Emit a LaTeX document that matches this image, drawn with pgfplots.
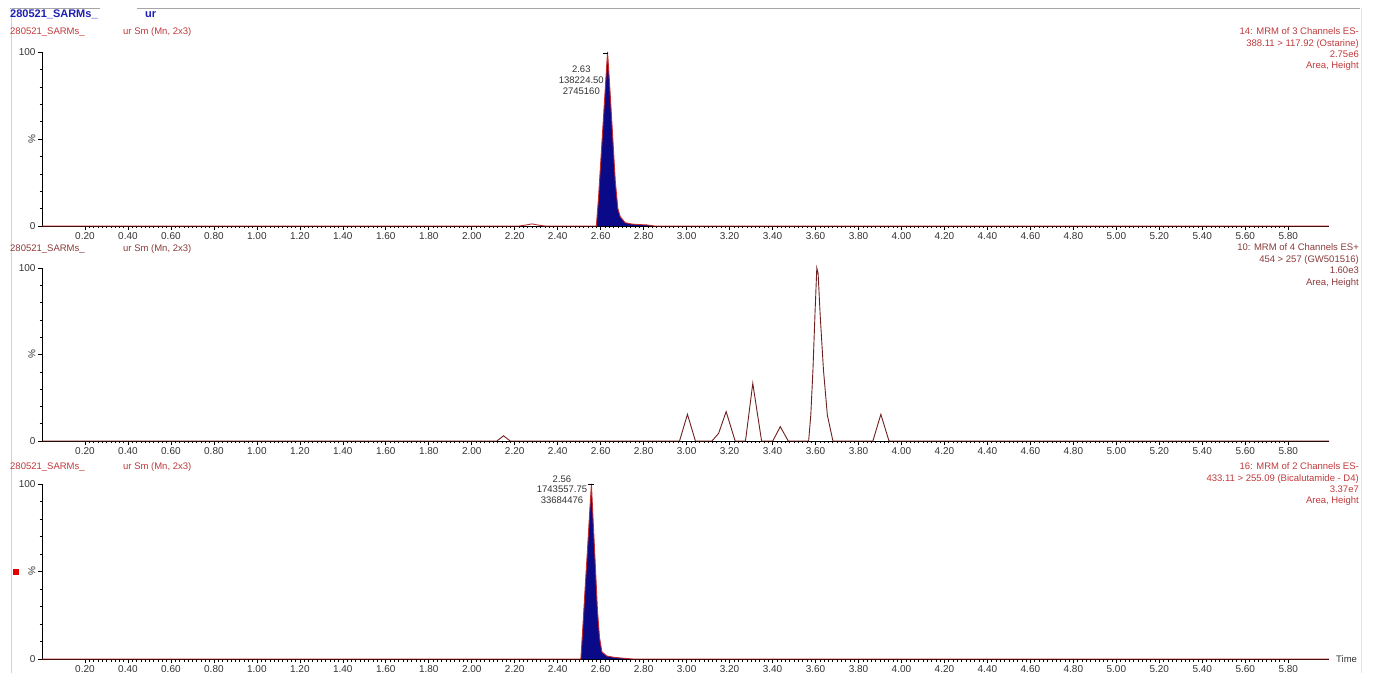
\documentclass[border=0pt]{standalone}
\usepackage{pgfplots}
\pgfplotsset{compat=1.18}
\usepackage{fontspec}
\setmainfont{Liberation Sans}
\usepackage{graphicx}
\definecolor{hdrblue}{HTML}{1E1EB4}
\definecolor{lblred}{HTML}{C0393B}
\definecolor{lblbrown}{HTML}{8B3A3A}
\definecolor{navyfill}{HTML}{0A0A88}
\definecolor{tracered}{HTML}{C42A2A}
\definecolor{tracebrown}{HTML}{6E1E1E}
\definecolor{ticktxt}{HTML}{333333}

\pgfplotsset{
  chrom/.style={
    scale only axis, width=1287bp,
    xmin=0, xmax=5.99, ymin=0, ymax=100,
    axis x line*=bottom, axis y line*=left,
    axis line style={black, line width=0.8bp, -},
    xtick={0.2,0.4,0.6,0.8,1.0,1.2,1.4,1.6,1.8,2.0,2.2,2.4,2.6,2.8,3.0,3.2,3.4,3.6,3.8,4.0,4.2,4.4,4.6,4.8,5.0,5.2,5.4,5.6,5.8},
    xticklabels={0.20,0.40,0.60,0.80,1.00,1.20,1.40,1.60,1.80,2.00,2.20,2.40,2.60,2.80,3.00,3.20,3.40,3.60,3.80,4.00,4.20,4.40,4.60,4.80,5.00,5.20,5.40,5.60,5.80},
    minor x tick num=9,
    ytick={0,50,100},
    yticklabels={0,{\rotatebox{90}{\%}},100},
    minor ytick={10,20,30,40,60,70,80,90},
    tick align=outside,
    major tick length=4bp, minor tick length=2.5bp,
    every tick/.style={black, line width=0.6bp},
    every minor tick/.style={black, line width=0.5bp},
    /pgf/number format/assume math mode=true,
    tick label style={font=\fontsize{10bp}{12bp}\selectfont, text=ticktxt},
    xticklabel style={yshift=1bp},
    yticklabel style={xshift=1bp},
    clip=false,
  }
}

\begin{document}
\begin{tikzpicture}[x=1bp,y=1bp]
\useasboundingbox (0,0) rectangle (1373,673);
% frame lines
\draw[gray!70, line width=0.8bp] (10,665) -- (100,665);
\draw[gray!70, line width=0.8bp] (137,665) -- (1360,665);
\draw[gray!35, line width=0.6bp] (11,665) -- (11,0);
\draw[gray!20, line width=0.6bp] (1361,665) -- (1361,0);
% header
\node[anchor=base west, inner sep=0, font=\fontsize{11bp}{13bp}\selectfont\bfseries, text=hdrblue] at (10,655) {280521\_SARMs\_};
\node[anchor=base west, inner sep=0, font=\fontsize{11bp}{13bp}\selectfont\bfseries, text=hdrblue] at (145,655) {ur};

% ---------------- Panel 1 ----------------
\begin{axis}[chrom, at={(42bp,447bp)}, anchor=south west, height=174bp]
\addplot[draw=none, fill=navyfill] coordinates {
(2.58,0) (2.59,16) (2.60,36) (2.61,56) (2.62,76) (2.632,100) (2.64,85) (2.65,64) (2.66,43) (2.668,26) (2.68,10) (2.691,5.4) (2.714,1.9) (2.745,1.1) (2.78,0.8) (2.815,0.6) (2.85,0)
} \closedcycle;
\addplot[tracered, line width=0.9bp] coordinates {
(0,0) (2.22,0) (2.25,0.5) (2.28,1.2) (2.31,0.5) (2.34,0) (2.58,0) (2.59,16) (2.60,36) (2.61,56) (2.62,76) (2.632,100) (2.64,85) (2.65,64) (2.66,43) (2.668,26) (2.68,10) (2.691,5.4) (2.714,1.9) (2.745,1.1) (2.78,0.8) (2.815,0.6) (2.85,0) (5.99,0)
};
\node[anchor=base, inner sep=0, font=\fontsize{9.5bp}{11bp}\selectfont, text=ticktxt] at (axis cs:2.51,88) {2.63};
\node[anchor=base, inner sep=0, font=\fontsize{9.5bp}{11bp}\selectfont, text=ticktxt] at (axis cs:2.51,81.6) {138224.50};
\node[anchor=base, inner sep=0, font=\fontsize{9.5bp}{11bp}\selectfont, text=ticktxt] at (axis cs:2.51,75.3) {2745160};
\draw[black, line width=0.6bp] (axis cs:2.612,99.5) -- (axis cs:2.635,99.5);
\end{axis}
\node[anchor=base west, inner sep=0, font=\fontsize{9.5bp}{11bp}\selectfont, text=lblred] at (10,638) {280521\_SARMs\_};
\node[anchor=base west, inner sep=0, font=\fontsize{9.5bp}{11bp}\selectfont, text=lblred] at (123,638) {ur Sm (Mn, 2x3)};
\begin{scope}[every node/.style={anchor=base east, inner sep=0, font=\fontsize{9.5bp}{11bp}\selectfont, text=lblred}]
\node at (1359,638) {14: MRM of 3 Channels ES-};
\node at (1359,626) {388.11 > 117.92 (Ostarine)};
\node at (1359,615) {2.75e6};
\node at (1359,604) {Area, Height};
\end{scope}

% ---------------- Panel 2 ----------------
\begin{axis}[chrom, at={(42bp,232bp)}, anchor=south west, height=173bp]
\addplot[tracebrown, line width=0.9bp] coordinates {
(0,0) (2.117,0) (2.148,3) (2.179,0)
(2.967,0) (3.004,15.4) (3.041,0)
(3.118,0) (3.149,4.4) (3.184,17) (3.226,0)
(3.274,0) (3.308,33.3) (3.349,0)
(3.401,0) (3.436,8.3) (3.473,0)
(3.568,0) (3.578,15) (3.588,41) (3.598,75) (3.606,100) (3.612,97) (3.622,72) (3.637,41) (3.655,15) (3.681,0)
(3.867,0) (3.904,15.4) (3.942,0) (5.99,0)
};
\end{axis}
\node[anchor=base west, inner sep=0, font=\fontsize{9.5bp}{11bp}\selectfont, text=lblbrown] at (10,421) {280521\_SARMs\_};
\node[anchor=base west, inner sep=0, font=\fontsize{9.5bp}{11bp}\selectfont, text=lblbrown] at (123,421) {ur Sm (Mn, 2x3)};
\begin{scope}[every node/.style={anchor=base east, inner sep=0, font=\fontsize{9.5bp}{11bp}\selectfont, text=lblbrown}]
\node at (1359,422) {10: MRM of 4 Channels ES+};
\node at (1359,410) {454 > 257 (GW501516)};
\node at (1359,399) {1.60e3};
\node at (1359,387) {Area, Height};
\end{scope}

% ---------------- Panel 3 ----------------
\begin{axis}[chrom, at={(42bp,14bp)}, anchor=south west, height=175bp]
\addplot[draw=none, fill=navyfill] coordinates {
(2.508,0) (2.518,20) (2.528,41) (2.538,61) (2.548,82) (2.557,100) (2.565,79) (2.575,54) (2.585,28) (2.595,12) (2.606,4) (2.629,1.7) (2.66,1) (2.69,0.6) (2.72,0.3) (2.75,0)
} \closedcycle;
\addplot[tracered, line width=0.9bp] coordinates {
(0,0) (2.508,0) (2.518,20) (2.528,41) (2.538,61) (2.548,82) (2.557,100) (2.565,79) (2.575,54) (2.585,28) (2.595,12) (2.606,4) (2.629,1.7) (2.66,1) (2.69,0.6) (2.72,0.3) (2.75,0) (5.99,0)
};
\node[anchor=base, inner sep=0, font=\fontsize{9.5bp}{11bp}\selectfont, text=ticktxt] at (axis cs:2.42,101) {2.56};
\node[anchor=base, inner sep=0, font=\fontsize{9.5bp}{11bp}\selectfont, text=ticktxt] at (axis cs:2.42,94.9) {1743557.75};
\node[anchor=base, inner sep=0, font=\fontsize{9.5bp}{11bp}\selectfont, text=ticktxt] at (axis cs:2.42,88.6) {33684476};
\draw[black, line width=0.6bp] (axis cs:2.54,100) -- (axis cs:2.57,100);
\end{axis}
\node[anchor=base west, inner sep=0, font=\fontsize{9.5bp}{11bp}\selectfont, text=lblred] at (10,203) {280521\_SARMs\_};
\node[anchor=base west, inner sep=0, font=\fontsize{9.5bp}{11bp}\selectfont, text=lblred] at (123,203) {ur Sm (Mn, 2x3)};
\begin{scope}[every node/.style={anchor=base east, inner sep=0, font=\fontsize{9.5bp}{11bp}\selectfont, text=lblred}]
\node at (1359,203) {16: MRM of 2 Channels ES-};
\node at (1359,191) {433.11 > 255.09 (Bicalutamide - D4)};
\node at (1359,180) {3.37e7};
\node at (1359,169) {Area, Height};
\end{scope}
\node[anchor=base west, inner sep=0, font=\fontsize{9.5bp}{11bp}\selectfont, text=ticktxt] at (1336,10) {Time};
\fill[red!90!black] (13,98) rectangle (19,104);
\end{tikzpicture}
\end{document}
